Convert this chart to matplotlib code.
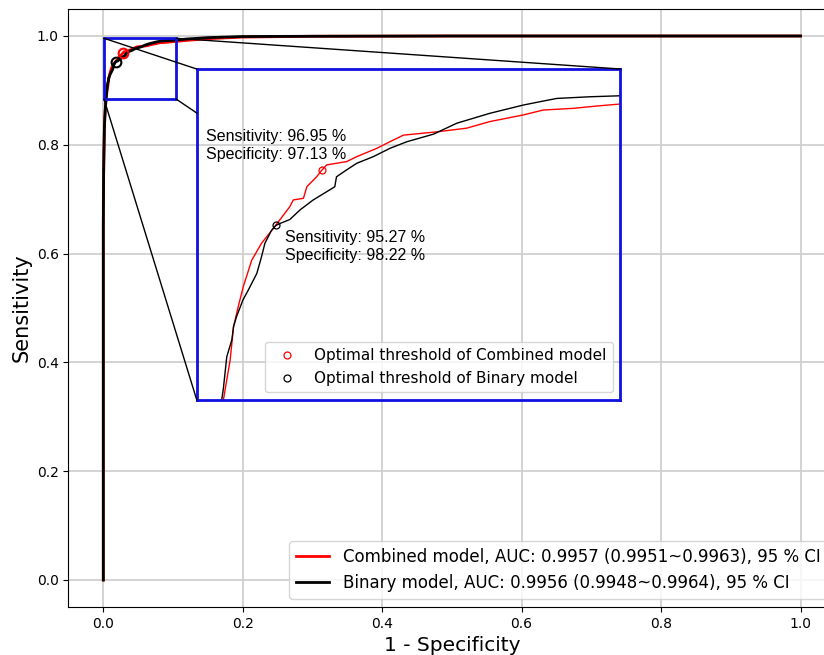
import matplotlib
matplotlib.use("Agg")
import matplotlib.pyplot as plt
from matplotlib.patches import Rectangle, ConnectionPatch
from matplotlib.lines import Line2D

# ---------------- data ----------------
combined_fpr = [0.0, 0.0, 0.0008, 0.0020, 0.0040, 0.0054, 0.0062, 0.0070, 0.0078, 0.0089,
                0.0101, 0.0121, 0.0144, 0.0172, 0.0211, 0.0219, 0.0243, 0.0251, 0.0274,
                0.0287, 0.0298, 0.0345, 0.0369, 0.0416, 0.0447, 0.0479, 0.0558, 0.0628,
                0.0683, 0.0762, 0.0809, 0.0880, 0.0935, 0.0990, 0.12, 0.15, 0.20, 0.30,
                0.50, 1.0]
combined_tpr = [0.0, 0.69, 0.78, 0.85, 0.885, 0.8999, 0.9060, 0.9120, 0.9221, 0.9281,
                0.9342, 0.9422, 0.9473, 0.9518, 0.9584, 0.9604, 0.9609, 0.9644, 0.9674,
                0.9695, 0.9710, 0.9720, 0.9735, 0.9760, 0.9780, 0.9800, 0.9810, 0.9821,
                0.9841, 0.9861, 0.9876, 0.9881, 0.9888, 0.9894, 0.992, 0.995, 0.998, 0.9995,
                1.0, 1.0]

binary_fpr = [0.0, 0.0, 0.0005, 0.0015, 0.0030, 0.0045, 0.0050, 0.0054, 0.0062, 0.0074,
              0.0078, 0.0085, 0.0100, 0.0113, 0.0133, 0.0144, 0.0152, 0.0168, 0.0178,
              0.0188, 0.0211, 0.0235, 0.0266, 0.0298, 0.0317, 0.0321, 0.0345, 0.0369,
              0.0408, 0.0447, 0.0487, 0.0550, 0.0605, 0.0683, 0.0762, 0.0801, 0.0841,
              0.0919, 0.0990, 0.12, 0.15, 0.20, 0.30, 0.50, 1.0]
binary_tpr = [0.0, 0.65, 0.75, 0.83, 0.87, 0.89, 0.8999, 0.9034, 0.9130, 0.9181,
              0.9221, 0.9251, 0.9301, 0.9332, 0.9382, 0.9432, 0.9473, 0.9513, 0.9527,
              0.9533, 0.9545, 0.9574, 0.9604, 0.9629, 0.9644, 0.9674, 0.9695, 0.9715,
              0.9735, 0.9760, 0.9780, 0.9803, 0.9836, 0.9866, 0.9891, 0.9901, 0.9911,
              0.9916, 0.9919, 0.9945, 0.997, 0.999, 0.9995, 1.0, 1.0]

combined_sens, combined_spec = 96.95, 97.13
binary_sens, binary_spec = 95.27, 98.22

combined_label = "Combined model, AUC: 0.9957 (0.9951~0.9963), 95 % CI"
binary_label = "Binary model, AUC: 0.9956 (0.9948~0.9964), 95 % CI"
opt_labels = ["Optimal threshold of Combined model", "Optimal threshold of Binary model"]

ticks = [0.0, 0.2, 0.4, 0.6, 0.8, 1.0]

# zoom box drawn on the main axes, inset view limits
box_x = (0.001, 0.1043)
box_y = (0.8842, 0.9958)
inset_xlim = (-0.0009, 0.0991)
inset_ylim = (0.900, 1.000)

# ---------------- figure ----------------
fig = plt.figure(figsize=(8.24, 6.55), dpi=100)
ax = fig.add_axes([0.08306, 0.07298, 0.93073, 0.91359])

c_fpr_opt = 1 - combined_spec / 100
c_tpr_opt = combined_sens / 100
b_fpr_opt = 1 - binary_spec / 100
b_tpr_opt = binary_sens / 100

ax.plot(combined_fpr, combined_tpr, color="red", lw=2, label=combined_label, zorder=3)
ax.plot(binary_fpr, binary_tpr, color="black", lw=2, label=binary_label, zorder=4)
ax.plot([c_fpr_opt], [c_tpr_opt], "o", mfc="none", mec="red", ms=7, mew=1.5, zorder=5)
ax.plot([b_fpr_opt], [b_tpr_opt], "o", mfc="none", mec="black", ms=7, mew=1.5, zorder=5)

ax.set_xlim(-0.05, 1.05)
ax.set_ylim(-0.05, 1.05)
ax.set_xticks(ticks)
ax.set_yticks(ticks)
ax.tick_params(labelsize=10)
ax.grid(True, color="#cccccc", lw=1.2)
ax.set_axisbelow(True)
ax.set_xlabel("1 - Specificity", fontsize=14.5)
ax.set_ylabel("Sensitivity", fontsize=15)
ax.legend(loc="lower right", fontsize=12)

# zoom box
rect = Rectangle((box_x[0], box_y[0]), box_x[1] - box_x[0], box_y[1] - box_y[0],
                 fill=False, edgecolor="#1010e0", lw=2, zorder=6)
ax.add_patch(rect)

# ---------------- inset ----------------
axins = fig.add_axes([0.23871, 0.38977, 0.51408, 0.50489])
axins.set_facecolor("none")
axins.plot(combined_fpr, combined_tpr, color="red", lw=1)
axins.plot(binary_fpr, binary_tpr, color="black", lw=1)
h1, = axins.plot([c_fpr_opt], [c_tpr_opt], "o", mfc="none", mec="red", ms=5, mew=0.9,
                 ls="none")
h2, = axins.plot([b_fpr_opt], [b_tpr_opt], "o", mfc="none", mec="black", ms=5, mew=0.9,
                 ls="none")
axins.set_xlim(*inset_xlim)
axins.set_ylim(*inset_ylim)
axins.set_xticks([])
axins.set_yticks([])
for s in axins.spines.values():
    s.set_edgecolor("#1010e0")
    s.set_linewidth(2)
axins.legend([h1, h2], opt_labels, loc="lower right", fontsize=11)

ann_font = ["Liberation Sans", "DejaVu Sans"]
axins.text(0.021, 0.820,
           f"Sensitivity: {combined_sens:.2f} %\nSpecificity: {combined_spec:.2f} %",
           transform=axins.transAxes, ha="left", va="top", fontsize=11.5,
           family=ann_font, linespacing=1.25)
axins.text(0.2085, 0.512,
           f"Sensitivity: {binary_sens:.2f} %\nSpecificity: {binary_spec:.2f} %",
           transform=axins.transAxes, ha="left", va="top", fontsize=11.5,
           family=ann_font, linespacing=1.25)

# connector lines
corners = [((box_x[0], box_y[1]), (0, 1)),
           ((box_x[1], box_y[1]), (1, 1)),
           ((box_x[0], box_y[0]), (0, 0))]
for a, b in corners:
    cp = ConnectionPatch(xyA=a, coordsA=ax.transData, xyB=b, coordsB=axins.transAxes,
                         color="black", lw=1, zorder=2)
    fig.add_artist(cp)

# bottom-right connector: visible only up to the inset's left edge
pA = ax.transData.transform((box_x[1], box_y[0]))
pB = axins.transAxes.transform((1, 0))
xL = axins.transAxes.transform((0, 0))[0]
t = (xL - pA[0]) / (pB[0] - pA[0])
pC = (xL, pA[1] + t * (pB[1] - pA[1]))
inv = fig.transFigure.inverted()
fa = inv.transform(pA)
fc = inv.transform(pC)
fig.add_artist(Line2D([fa[0], fc[0]], [fa[1], fc[1]], color="black", lw=1,
                      transform=fig.transFigure))

fig.savefig("out.png", dpi=100)
